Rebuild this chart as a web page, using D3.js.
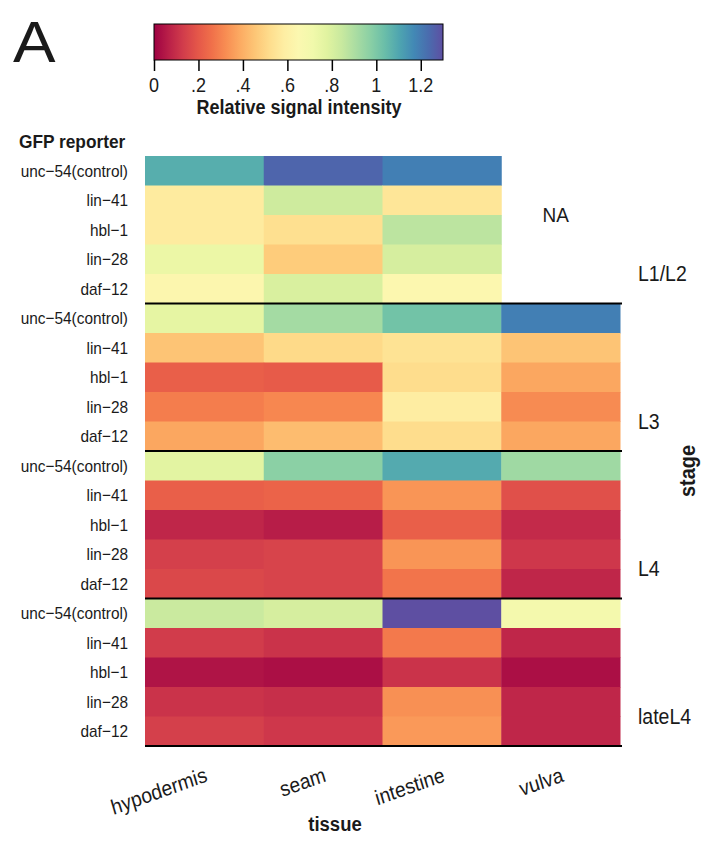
<!DOCTYPE html>
<html>
<head>
<meta charset="utf-8">
<script src="https://cdn.jsdelivr.net/npm/d3@7"></script>
<style>
  body { margin: 0; background: #fff; }
  text { font-family: "Liberation Sans", Arial, sans-serif; fill: #1a1a1a; }
</style>
</head>
<body>
<svg id="chart" width="701" height="854"></svg>
<script>
// Tissues (columns), reporters (rows within a stage) and developmental stages
const tissues = ["hypodermis", "seam", "intestine", "vulva"];
const reporters = ["unc\u221254(control)", "lin\u221241", "hbl\u22121", "lin\u221228", "daf\u221212"];
const stages = ["L1/L2", "L3", "L4", "lateL4"];
const colorTicks = [0, 0.2, 0.4, 0.6, 0.8, 1.0, 1.2];
const tickLabels = ["0", ".2", ".4", ".6", ".8", "1", "1.2"];

// Relative signal intensity per stage: rows = reporters, cols = tissues (null = NA)
const valuesL1L2 = [
  [1.08, 1.25, 1.19, null],
  [0.57, 0.83, 0.55, null],
  [0.57, 0.53, 0.87, null],
  [0.74, 0.47, 0.81, null],
  [0.63, 0.80, 0.64, null]
];
const valuesL3 = [
  [0.76, 0.92, 1.02, 1.19],
  [0.45, 0.51, 0.54, 0.45],
  [0.22, 0.21, 0.52, 0.38],
  [0.29, 0.31, 0.58, 0.32],
  [0.38, 0.43, 0.52, 0.38]
];
const valuesL4 = [
  [0.77, 0.97, 1.09, 0.93],
  [0.22, 0.23, 0.34, 0.18],
  [0.08, 0.06, 0.22, 0.09],
  [0.14, 0.15, 0.34, 0.12],
  [0.16, 0.15, 0.27, 0.08]
];
const valuesLateL4 = [
  [0.84, 0.81, 1.30, 0.70],
  [0.13, 0.11, 0.28, 0.08],
  [0.04, 0.03, 0.11, 0.03],
  [0.11, 0.10, 0.33, 0.08],
  [0.14, 0.12, 0.35, 0.08]
];
const stageValues = [valuesL1L2, valuesL3, valuesL4, valuesLateL4];

const svg = d3.select("#chart");
const STRETCH = 1.1; // text glyphs are drawn slightly taller than wide

// Place a text element with a shared vertical stretch (and optional rotation)
function label(sel, x, y, str, size, opts = {}) {
  const rot = opts.rotate ? ` rotate(${opts.rotate})` : "";
  return sel.append("text")
    .attr("transform", `translate(${x},${y}) scale(1,${STRETCH})${rot}`)
    .attr("text-anchor", opts.anchor || "start")
    .attr("font-size", size)
    .attr("font-weight", opts.bold ? "bold" : null)
    .text(str);
}

// Flatten into cells
const rowKeys = [];
stages.forEach(s => reporters.forEach(r => rowKeys.push(s + "|" + r)));
const cells = [];
stages.forEach((s, si) => reporters.forEach((r, ri) => tissues.forEach((t, ti) => {
  cells.push({ stage: s, reporter: r, tissue: t, key: s + "|" + r, value: stageValues[si][ri][ti] });
})));

const vmax = 1.3;
const color = d3.scaleSequential(d3.interpolateSpectral).domain([0, vmax]);

const x = d3.scaleBand().domain(tissues).range([145, 620]);
const y = d3.scaleBand().domain(rowKeys).range([156, 746]);

// Tiles
svg.append("g").selectAll("rect")
  .data(cells.filter(d => d.value !== null))
  .join("rect")
  .attr("x", d => x(d.tissue))
  .attr("y", d => y(d.key))
  .attr("width", x.bandwidth() + 0.5)
  .attr("height", y.bandwidth() + 0.5)
  .attr("fill", d => color(d.value));

// NA label in the empty block
label(svg, x("vulva") + x.bandwidth() / 2 - 5,
  (y(stages[0] + "|" + reporters[1]) + y(stages[0] + "|" + reporters[3])) / 2 + 7,
  "NA", 19, { anchor: "middle" });

// Stage separators
stages.forEach(s => {
  const yb = y(s + "|" + reporters[reporters.length - 1]) + y.bandwidth();
  svg.append("line")
    .attr("x1", 145).attr("x2", 622)
    .attr("y1", yb).attr("y2", yb)
    .attr("stroke", "#000").attr("stroke-width", 2);
});

// Row labels
const rowG = svg.append("g");
rowKeys.forEach(k => {
  label(rowG, 128, y(k) + y.bandwidth() / 2 + 6, k.split("|")[1], 15.4, { anchor: "end" });
});

// Stage labels
stages.forEach(s => {
  label(svg, 638, y(s + "|" + reporters[4]) + 7, s, 19.5);
});

// Column labels
const colG = svg.append("g");
tissues.forEach(t => {
  label(colG, x(t) + x.bandwidth() / 2 + 4, 781, t, 19.3, { anchor: "end", rotate: -18 });
});

// Axis titles
label(svg, 335, 831, "tissue", 18.5, { anchor: "middle", bold: true });
svg.append("text")
  .attr("transform", `translate(695,471) scale(${STRETCH},1) rotate(-90)`)
  .attr("text-anchor", "middle")
  .attr("font-size", 20).attr("font-weight", "bold")
  .text("stage");
label(svg, 19, 148, "GFP reporter", 17.3, { bold: true });

// Panel letter
svg.append("text")
  .attr("transform", "translate(13,62) scale(1.12,1)")
  .attr("font-size", 57)
  .text("A");

// Colour bar
const cx = d3.scaleLinear().domain([0, vmax]).range([154, 443]);
const defs = svg.append("defs");
const grad = defs.append("linearGradient").attr("id", "cbar");
d3.range(0, 1.0001, 0.05).forEach(t => {
  grad.append("stop").attr("offset", (t * 100) + "%").attr("stop-color", color(t * vmax));
});
svg.append("rect")
  .attr("x", cx(0)).attr("y", 24)
  .attr("width", cx(vmax) - cx(0)).attr("height", 36)
  .attr("fill", "url(#cbar)")
  .attr("stroke", "#000").attr("stroke-width", 1);

const cAxis = svg.append("g")
  .attr("transform", "translate(0,60)")
  .call(d3.axisBottom(cx).tickValues(colorTicks).tickFormat(() => "").tickSize(11));
cAxis.select(".domain").remove();
cAxis.selectAll("line").attr("stroke", "#000").attr("stroke-width", 1.5);
const tickG = svg.append("g");
colorTicks.forEach((v, i) => {
  label(tickG, cx(v), 92, tickLabels[i], 18, { anchor: "middle" });
});

label(svg, 299, 114, "Relative signal intensity", 18, { anchor: "middle", bold: true });
</script>
</body>
</html>
